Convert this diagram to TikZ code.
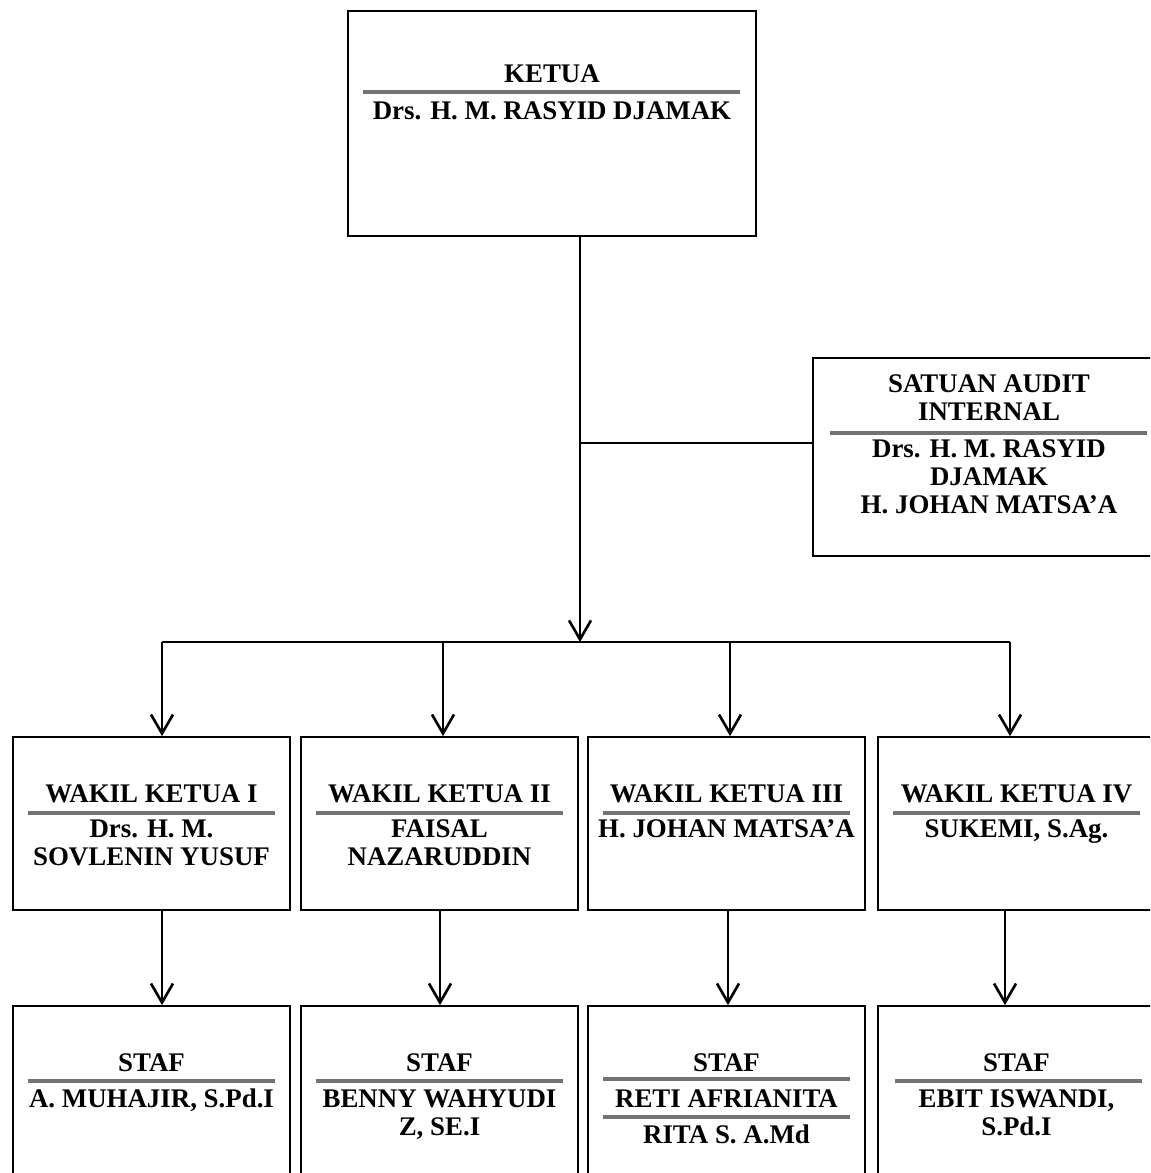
\documentclass[tikz,border=0pt]{standalone}
\usepackage{fontspec}
\setmainfont{Liberation Serif}
\usetikzlibrary{arrows.meta}

\begin{document}
\begin{tikzpicture}[
    x=0.02cm, y=-0.02cm,
    box/.style={draw, line width=1pt, inner sep=0pt},
    ketuabox/.style={box, minimum width=8.16cm, minimum height=4.5cm},
    auditbox/.style={box, minimum width=6.94cm, minimum height=3.96cm},
    wakilbox/.style={box, minimum width=5.54cm, minimum height=3.46cm},
    stafbox/.style={box, minimum width=5.54cm, minimum height=3.88cm},
    txt/.style={font=\fontsize{15.3}{15.9}\selectfont\bfseries, align=center, inner sep=0pt, anchor=base},
    sep/.style={black!55, line width=2pt},
    arrow/.style={-{Straight Barb[length=0.38cm, width=0.44cm]}, line width=1.5pt}
]

\clip (0,0) rectangle (1150,1173);

% Top box
\node[ketuabox] (ketua) at (552, 123.5) {};
\node[txt] (ketuat) at (552, 82)  {KETUA};
\node[txt] (ketuan) at (552, 119) {Drs. H. M. RASYID DJAMAK};
\draw[sep] (363, 92) -- (740, 92);

% Audit box (base = last line)
\node[auditbox] (audit) at (986.5, 457) {};
\node[txt] (auditt) at (989, 420) {SATUAN AUDIT\\INTERNAL};
\node[txt] (auditn) at (989, 513) {Drs. H. M. RASYID\\DJAMAK\\H. JOHAN MATSA'A};
\draw[sep] (830, 433) -- (1147, 433);

% Wakil ketua boxes
\node[wakilbox] (w1) at (151.5, 823.5) {};
\node[wakilbox] (w2) at (439.5, 823.5) {};
\node[wakilbox] (w3) at (726.5, 823.5) {};
\node[wakilbox] (w4) at (1016.5, 823.5) {};

\node[txt] (w1t) at (151.5, 802) {WAKIL KETUA I};
\node[txt] (w2t) at (439.5, 802) {WAKIL KETUA II};
\node[txt] (w3t) at (726.5, 802) {WAKIL KETUA III};
\node[txt] (w4t) at (1016.5, 802) {WAKIL KETUA IV};

\node[txt] (w1n) at (151.5, 865) {Drs. H. M.\\SOVLENIN YUSUF};
\node[txt] (w2n) at (439.5, 865) {FAISAL\\NAZARUDDIN};
\node[txt] (w3n) at (726.5, 837) {H. JOHAN MATSA'A};
\node[txt] (w4n) at (1016.5, 837) {SUKEMI, S.Ag.};

% Staf boxes
\node[stafbox] (s1) at (151.5, 1103) {};
\node[stafbox] (s2) at (439.5, 1103) {};
\node[stafbox] (s3) at (726.5, 1103) {};
\node[stafbox] (s4) at (1016.5, 1103) {};

\foreach \i/\c in {1/151.5, 2/439.5, 3/726.5, 4/1016.5}{
    \node[txt] (s\i t) at (\c, 1071) {STAF};
    \draw[sep] (\c-123.5, 813) -- (\c+123.5, 813);
}
\draw[sep] (28, 1081) -- (275, 1081);
\draw[sep] (316, 1081) -- (563, 1081);
\draw[sep] (603, 1079) -- (850, 1079);
\draw[sep] (603, 1117) -- (850, 1117);
\draw[sep] (895, 1081) -- (1142, 1081);

\node[txt] (s1n) at (151.5, 1107) {A. MUHAJIR, S.Pd.I};
\node[txt] (s2n) at (439.5, 1135) {BENNY WAHYUDI\\Z, SE.I};
\node[txt] (s3n) at (726.5, 1107) {RETI AFRIANITA};
\node[txt] (s3m) at (726.5, 1143) {RITA S. A.Md};
\node[txt] (s4n) at (1016.5, 1135) {EBIT ISWANDI,\\S.Pd.I};

% Connectors
\coordinate (hub) at (580, 642);
\coordinate (branch) at (580, 443);
\draw[arrow] (ketua.south -| hub) -- (hub);
\draw[line width=1.5pt] (branch) -- (branch -| audit.west);
\draw[line width=1.5pt] ([xshift=0.21cm]w1.north |- hub) -- ([xshift=-0.13cm]w4.north |- hub);

\foreach \i/\d/\e in {1/0.21/0.21, 2/0.07/0.01, 3/0.07/0.03, 4/-0.13/-0.23}{
    \draw[arrow] ([xshift=\d cm]w\i.north |- hub) -- ([xshift=\d cm]w\i.north);
    \draw[arrow] ([xshift=\e cm]w\i.south) -- ([xshift=\e cm]s\i.north);
}

\end{tikzpicture}
\end{document}
